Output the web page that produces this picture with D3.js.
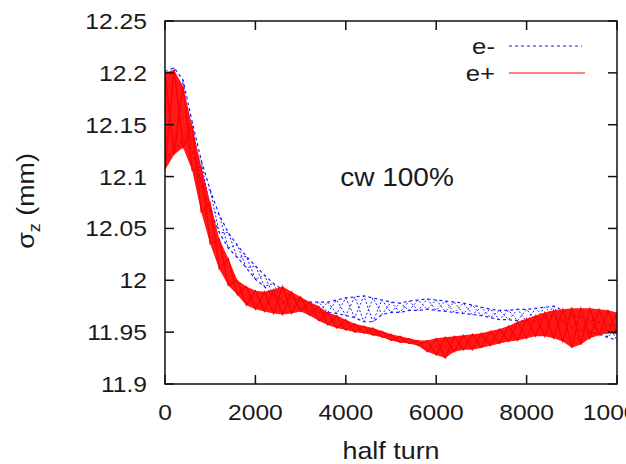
<!DOCTYPE html>
<html><head><meta charset="utf-8">
<script src="https://cdn.jsdelivr.net/npm/d3@7"></script>
<style>
body{margin:0;background:#fff}
text{font-family:"Liberation Sans",Arial,sans-serif;fill:#1a1a1a}
</style>
</head><body>
<svg width="626" height="464"></svg>
<script>
// sample positions (half turns)
var halfTurn = d3.range(0, 10001, 200);

// e+ band (upper / lower envelope of the oscillation)
var ePlusHi = [12.200,12.203,12.187,12.149,12.110,12.075,12.040,12.021,12.000,11.994,
	11.990,11.989,11.991,11.994,11.989,11.984,11.979,11.975,11.969,11.966,
	11.962,11.958,11.956,11.954,11.951,11.948,11.946,11.944,11.942,11.942,
	11.944,11.945,11.946,11.947,11.948,11.949,11.951,11.953,11.956,11.960,
	11.963,11.966,11.969,11.971,11.972,11.973,11.973,11.973,11.972,11.971,11.969];
var ePlusLo = [12.106,12.121,12.128,12.106,12.066,12.035,12.011,11.995,11.986,11.976,
	11.972,11.970,11.968,11.967,11.968,11.970,11.966,11.961,11.957,11.954,
	11.952,11.950,11.949,11.947,11.945,11.942,11.940,11.939,11.937,11.931,
	11.928,11.925,11.931,11.933,11.933,11.935,11.937,11.939,11.941,11.942,
	11.944,11.946,11.946,11.944,11.941,11.935,11.938,11.944,11.947,11.949,11.948];

// e- band
var eMinusHi = [12.201,12.205,12.193,12.153,12.116,12.087,12.063,12.046,12.034,12.023,
	12.014,12.005,11.997,11.991,11.984,11.981,11.979,11.979,11.979,11.981,
	11.983,11.984,11.985,11.983,11.981,11.979,11.978,11.980,11.981,11.982,
	11.981,11.980,11.979,11.978,11.976,11.974,11.972,11.971,11.971,11.972,
	11.972,11.973,11.974,11.975,11.971,11.967,11.964,11.962,11.960,11.958,11.956];
var eMinusLo = [12.115,12.126,12.135,12.125,12.092,12.068,12.046,12.031,12.022,12.012,
	12.001,11.994,11.985,11.979,11.975,11.973,11.971,11.969,11.969,11.968,
	11.966,11.964,11.960,11.960,11.967,11.969,11.969,11.971,11.971,11.972,
	11.971,11.970,11.969,11.968,11.967,11.966,11.964,11.962,11.962,11.961,
	11.960,11.961,11.964,11.966,11.960,11.954,11.952,11.950,11.948,11.945,11.942];

var xTicks = [0, 2000, 4000, 6000, 8000, 10000];
var yTicks = [11.9, 11.95, 12, 12.05, 12.1, 12.15, 12.2, 12.25];

var svg = d3.select("svg");
var mLeft = 165, mRight = 617, mTop = 21, mBottom = 384;
var stretch = 1.12; // the original text is a little wide

var x = d3.scaleLinear().domain([0, 10000]).range([mLeft, mRight]);
var y = d3.scaleLinear().domain([11.9, 12.25]).range([mBottom, mTop]);

function label(px, py, str, size, anchor) {
	return svg.append("text")
		.attr("transform", "translate(" + px + "," + py + ") scale(" + stretch + ",1)")
		.attr("text-anchor", anchor).attr("font-size", size)
		.text(str);
}

svg.append("clipPath").attr("id", "plot")
	.append("rect")
	.attr("x", mLeft).attr("y", mTop)
	.attr("width", mRight - mLeft).attr("height", mBottom - mTop);

var plot = svg.append("g").attr("clip-path", "url(#plot)");

function zigzag(hi, lo) {
	return halfTurn.map(function (t, i) {
		return [x(t), y(i % 2 ? lo[i] : hi[i])];
	});
}
var line = d3.line();

// e- : dashed blue
var blue = "#1a1aff";
plot.append("path")
	.attr("d", line(zigzag(eMinusHi, eMinusLo)))
	.attr("fill", "none").attr("stroke", blue)
	.attr("stroke-width", 1).attr("stroke-dasharray", "2,2");
plot.append("path")
	.attr("d", line(zigzag(eMinusLo, eMinusHi)))
	.attr("fill", "none").attr("stroke", blue)
	.attr("stroke-width", 1).attr("stroke-dasharray", "2,2");
[eMinusHi, eMinusLo].forEach(function (arr) {
	plot.append("path")
		.attr("d", line(halfTurn.map(function (t, i) { return [x(t), y(arr[i])]; })))
		.attr("fill", "none").attr("stroke", blue)
		.attr("stroke-width", 1.2).attr("stroke-dasharray", "3,3");
});

// e+ : red band
var area = d3.area()
	.x(function (d) { return x(d); })
	.y0(function (d, i) { return y(ePlusLo[i]); })
	.y1(function (d, i) { return y(ePlusHi[i]); });
plot.append("path")
	.attr("d", area(halfTurn))
	.attr("fill", "#ff0000").attr("fill-opacity", 0.9);
plot.append("path")
	.attr("d", line(zigzag(ePlusHi, ePlusLo)))
	.attr("fill", "none").attr("stroke", "#ff0000").attr("stroke-width", 1.2);
plot.append("path")
	.attr("d", line(zigzag(ePlusLo, ePlusHi)))
	.attr("fill", "none").attr("stroke", "#ff0000").attr("stroke-width", 1.2);

// frame and mirrored inward ticks
svg.append("rect")
	.attr("x", mLeft).attr("y", mTop)
	.attr("width", mRight - mLeft).attr("height", mBottom - mTop)
	.attr("fill", "none").attr("stroke", "#111").attr("stroke-width", 1.5);

var tk = 9;
xTicks.forEach(function (t) {
	svg.append("line").attr("x1", x(t)).attr("x2", x(t)).attr("y1", mBottom).attr("y2", mBottom - tk)
		.attr("stroke", "#111").attr("stroke-width", 1.5);
	svg.append("line").attr("x1", x(t)).attr("x2", x(t)).attr("y1", mTop).attr("y2", mTop + tk)
		.attr("stroke", "#111").attr("stroke-width", 1.5);
	label(x(t), 420, t, 22, "middle");
});
yTicks.forEach(function (v) {
	svg.append("line").attr("x1", mLeft).attr("x2", mLeft + tk).attr("y1", y(v)).attr("y2", y(v))
		.attr("stroke", "#111").attr("stroke-width", 1.5);
	svg.append("line").attr("x1", mRight).attr("x2", mRight - tk).attr("y1", y(v)).attr("y2", y(v))
		.attr("stroke", "#111").attr("stroke-width", 1.5);
	label(147, y(v) + 8, v, 22, "end");
});

// axis titles
label(391, 459, "half turn", 24, "middle");

var yl = svg.append("text")
	.attr("transform", "translate(34,201) rotate(-90) scale(" + stretch + ",1)")
	.attr("text-anchor", "middle").attr("font-size", 24);
yl.append("tspan").text("σ");
yl.append("tspan").attr("font-size", 16).attr("dy", 6).text("z");
yl.append("tspan").attr("dy", -6).text(" (mm)");

// annotation
label(397, 186, "cw 100%", 25, "middle");

// legend
var legend = [
	{name: "e-", color: blue, dash: "3,3", y: 46, x2: 582},
	{name: "e+", color: "#ff0000", dash: null, y: 73, x2: 585}
];
legend.forEach(function (d) {
	label(495, d.y + 8, d.name, 23, "end");
	svg.append("line").attr("x1", 509).attr("x2", d.x2).attr("y1", d.y).attr("y2", d.y)
		.attr("stroke", d.color).attr("stroke-width", 1.2)
		.attr("stroke-dasharray", d.dash);
});
</script>
</body></html>
